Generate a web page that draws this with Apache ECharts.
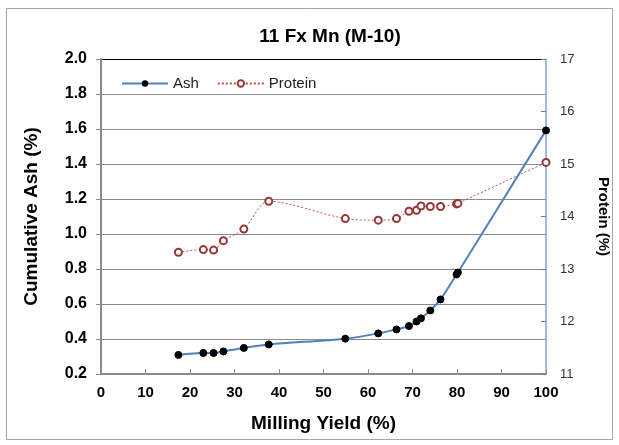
<!DOCTYPE html>
<html>
<head>
<meta charset="utf-8">
<script src="https://cdn.jsdelivr.net/npm/echarts@6/dist/echarts.min.js"></script>
<style>
	html, body { margin:0; padding:0; background:#fff; }
	#chart { width:619px; height:445px; }
</style>
</head>
<body>
<div id="chart"></div>
<script>
// milling yield (%) shared by both series
var yieldPct = [17.4, 23.0, 25.3, 27.5, 32.1, 37.7, 54.9, 62.3, 66.4, 69.2, 70.9, 71.9, 74.0, 76.3, 79.9, 80.2, 100];
var ashPct = [0.309, 0.32, 0.32, 0.329, 0.349, 0.369, 0.402, 0.432, 0.455, 0.474, 0.50, 0.518, 0.563, 0.626, 0.769, 0.78, 1.592];
var proteinPct = [13.32, 13.37, 13.36, 13.54, 13.76, 14.29, 13.96, 13.93, 13.96, 14.10, 14.12, 14.20, 14.19, 14.19, 14.24, 14.25, 15.03];

function pairs(xs, ys){
	var out = [];
	xs.forEach(function(x, i){
		out.push([x, ys[i]]);
	});
	return out;
}

var chart = echarts.init(document.getElementById('chart'));
var font = 'Liberation Sans, Arial, sans-serif';

// gridlines are grey, the top one (2.0) is black
var gridColors = ['#8c8c8c','#8c8c8c','#8c8c8c','#8c8c8c','#8c8c8c','#8c8c8c','#8c8c8c','#8c8c8c','#8c8c8c','#000'];

var option = {
	backgroundColor:'#fff',
	animation:false,
	title:{
		text:'11 Fx Mn (M-10)',
		left:325,
		top:22,
		textAlign:'center',
		textStyle:{ fontFamily:font, fontSize:19, fontWeight:'bold', color:'#000' }
	},
	graphic:[{
		type:'rect',
		shape:{ x:6.5, y:8.5, width:606, height:431 },
		style:{ fill:'none', stroke:'#a6a6a6', lineWidth:1 },
		silent:true
	}],
	legend:{
		left:116,
		top:71,
		itemWidth:46,
		itemHeight:8,
		itemGap:18,
		textStyle:{ fontFamily:font, fontSize:15, color:'#222' },
		data:['Ash','Protein']
	},
	grid:{ left:101, right:70, top:59, bottom:71 },
	xAxis:{
		type:'value',
		min:0, max:100, interval:10,
		name:'Milling Yield (%)',
		nameLocation:'middle',
		nameGap:40,
		nameTextStyle:{ fontFamily:font, fontSize:19, fontWeight:'bold', color:'#000' },
		axisLine:{ lineStyle:{ color:'#8c8c8c', width:2 } },
		axisTick:{ inside:true, length:5, lineStyle:{ color:'#8c8c8c' } },
		axisLabel:{ fontFamily:font, fontSize:15, fontWeight:'bold', color:'#000', margin:11 },
		splitLine:{ show:false }
	},
	yAxis:[{
		type:'value',
		min:0.2, max:2.0, interval:0.2,
		name:'Cumulative Ash (%)',
		nameLocation:'middle',
		nameRotate:90,
		nameGap:60,
		nameTextStyle:{ fontFamily:font, fontSize:19, fontWeight:'bold', color:'#000' },
		axisLine:{ show:true, lineStyle:{ color:'#8c8c8c', width:2 } },
		axisTick:{ show:true, length:5, lineStyle:{ color:'#8c8c8c' } },
		axisLabel:{ fontFamily:font, fontSize:16, fontWeight:'bold', color:'#000', margin:14,
			formatter:function(v){ return v.toFixed(1); } },
		splitLine:{ show:true, lineStyle:{ color:gridColors, width:1 } }
	},{
		type:'value',
		min:11, max:17, interval:1,
		name:'Protein (%)',
		nameLocation:'middle',
		nameRotate:-90,
		nameGap:50,
		nameTextStyle:{ fontFamily:font, fontSize:15, fontWeight:'bold', color:'#000' },
		axisLine:{ show:true, lineStyle:{ color:'#7ea6d8', width:1.5 } },
		axisTick:{ show:true, inside:true, length:5, lineStyle:{ color:'#4f81bd' } },
		axisLabel:{ fontFamily:font, fontSize:13, color:'#333', margin:14 },
		splitLine:{ show:false }
	}],
	series:[{
		name:'Ash',
		type:'line',
		yAxisIndex:0,
		smooth:0.3,
		data:pairs(yieldPct, ashPct),
		symbol:'circle',
		symbolSize:7,
		lineStyle:{ color:'#4f81bd', width:2 },
		itemStyle:{ color:'#000', borderColor:'#000' },
		z:3
	},{
		name:'Protein',
		type:'line',
		yAxisIndex:1,
		smooth:0.3,
		data:pairs(yieldPct, proteinPct),
		symbol:'circle',
		symbolSize:7,
		lineStyle:{ color:'#c0504d', width:1, type:[2,2] },
		itemStyle:{ color:'#fff', borderColor:'#953735', borderWidth:2 },
		z:2
	}]
};

chart.setOption(option);
</script>
</body>
</html>
